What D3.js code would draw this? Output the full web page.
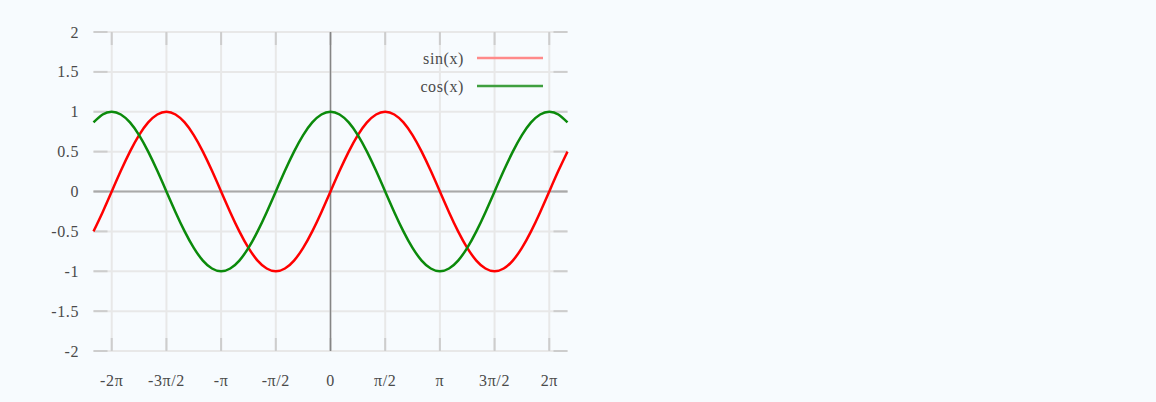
<!DOCTYPE html>
<html>
<head>
<meta charset="utf-8">
<script src="https://cdn.jsdelivr.net/npm/d3@7"></script>
<style>
  html, body { margin: 0; padding: 0; background: #f7fbfe; }
  svg { display: block; }
</style>
</head>
<body>
<svg id="chart" width="1156" height="402"></svg>
<script>
// x positions in steps of π/12, from -13π/6 to 13π/6
const xSteps = [-26,-25,-24,-23,-22,-21,-20,-19,-18,-17,-16,-15,-14,-13,-12,-11,-10,-9,-8,-7,-6,-5,-4,-3,-2,-1,
  0,1,2,3,4,5,6,7,8,9,10,11,12,13,14,15,16,17,18,19,20,21,22,23,24,25,26];

const sinValues = [-0.5,-0.259,0,0.259,0.5,0.707,0.866,0.966,1,0.966,0.866,0.707,0.5,0.259,0,-0.259,-0.5,-0.707,-0.866,-0.966,-1,-0.966,-0.866,-0.707,-0.5,-0.259,
  0,0.259,0.5,0.707,0.866,0.966,1,0.966,0.866,0.707,0.5,0.259,0,-0.259,-0.5,-0.707,-0.866,-0.966,-1,-0.966,-0.866,-0.707,-0.5,-0.259,0,0.259,0.5];

const cosValues = [0.866,0.966,1,0.966,0.866,0.707,0.5,0.259,0,-0.259,-0.5,-0.707,-0.866,-0.966,-1,-0.966,-0.866,-0.707,-0.5,-0.259,0,0.259,0.5,0.707,0.866,0.966,
  1,0.966,0.866,0.707,0.5,0.259,0,-0.259,-0.5,-0.707,-0.866,-0.966,-1,-0.966,-0.866,-0.707,-0.5,-0.259,0,0.259,0.5,0.707,0.866,0.966,1,0.966,0.866];

const xTickSteps = [-24,-18,-12,-6,0,6,12,18,24];
const xTickLabels = ["-2π","-3π/2","-π","-π/2","0","π/2","π","3π/2","2π"];
const yTicks = [2,1.5,1,0.5,0,-0.5,-1,-1.5,-2];
const yTickLabels = ["2","1.5","1","0.5","0","-0.5","-1","-1.5","-2"];

const seriesNames = ["sin(x)","cos(x)"];
const seriesColors = ["#ff0000","#0b8a0b"];
const legendColors = ["#ff8a8a","#3f9f3f"];

const svg = d3.select("#chart");
svg.append("rect").attr("width",1156).attr("height",402).attr("fill","#f7fbfe");

const plotLeft = 93.5, plotRight = 567.5, plotTop = 32, plotBottom = 351;
const x = d3.scaleLinear().domain([-26,26]).range([plotLeft,plotRight]);
const y = d3.scaleLinear().domain([-2,2]).range([plotBottom,plotTop]);

const serif = "'Liberation Serif','DejaVu Serif',serif";
const labelSize = 16;
const labelSpacing = 0.6;
const labelColor = "#4a4a4a";

// grid
const grid = svg.append("g");
grid.selectAll("line.hg").data(yTicks).join("line")
  .attr("x1",plotLeft).attr("x2",plotRight)
  .attr("y1",d=>y(d)).attr("y2",d=>y(d))
  .attr("stroke","#e8e8e8").attr("stroke-width",2);
grid.selectAll("line.vg").data(xTickSteps).join("line")
  .attr("x1",d=>x(d)).attr("x2",d=>x(d))
  .attr("y1",plotTop).attr("y2",plotBottom)
  .attr("stroke","#e8e8e8").attr("stroke-width",2);

// tick marks on all four sides
const ticks = svg.append("g").attr("stroke","#cdcdcd").attr("stroke-width",2);
yTicks.forEach(v=>{
  ticks.append("line").attr("x1",plotLeft).attr("x2",plotLeft+14).attr("y1",y(v)).attr("y2",y(v));
  ticks.append("line").attr("x1",plotRight-14).attr("x2",plotRight).attr("y1",y(v)).attr("y2",y(v));
});
xTickSteps.forEach(v=>{
  ticks.append("line").attr("x1",x(v)).attr("x2",x(v)).attr("y1",plotTop).attr("y2",plotTop+13);
  ticks.append("line").attr("x1",x(v)).attr("x2",x(v)).attr("y1",plotBottom-13).attr("y2",plotBottom);
});

// zero axes
svg.append("line").attr("x1",plotLeft).attr("x2",plotRight).attr("y1",y(0)).attr("y2",y(0))
  .attr("stroke","#a9a9a9").attr("stroke-width",2);
svg.append("line").attr("x1",x(0)).attr("x2",x(0)).attr("y1",plotTop).attr("y2",plotBottom)
  .attr("stroke","#858585").attr("stroke-width",1.5);

// tick labels
svg.append("g").selectAll("text").data(yTicks).join("text")
  .attr("x",79).attr("y",d=>y(d)+5.5)
  .attr("text-anchor","end")
  .attr("font-family",serif).attr("font-size",labelSize).attr("letter-spacing",labelSpacing)
  .attr("fill",labelColor)
  .text((d,i)=>yTickLabels[i]);
svg.append("g").selectAll("text").data(xTickSteps).join("text")
  .attr("x",d=>x(d)).attr("y",385.5)
  .attr("text-anchor","middle")
  .attr("font-family",serif).attr("font-size",labelSize).attr("letter-spacing",labelSpacing)
  .attr("fill",labelColor)
  .text((d,i)=>xTickLabels[i]);

// curves
const line = d3.line().x(d=>x(d[0])).y(d=>y(d[1])).curve(d3.curveNatural);
[sinValues, cosValues].forEach((vals,i)=>{
  svg.append("path")
    .datum(xSteps.map((s,j)=>[s,vals[j]]))
    .attr("d",line)
    .attr("fill","none")
    .attr("stroke",seriesColors[i])
    .attr("stroke-width",2.5);
});

// legend
seriesNames.forEach((name,i)=>{
  const ly = 58 + i*28;
  svg.append("text").attr("x",464).attr("y",ly+5.5)
    .attr("text-anchor","end")
    .attr("font-family",serif).attr("font-size",labelSize).attr("letter-spacing",labelSpacing)
    .attr("fill",labelColor)
    .text(name);
  svg.append("line").attr("x1",477).attr("x2",543).attr("y1",ly).attr("y2",ly)
    .attr("stroke",legendColors[i]).attr("stroke-width",2.5);
});
</script>
</body>
</html>
